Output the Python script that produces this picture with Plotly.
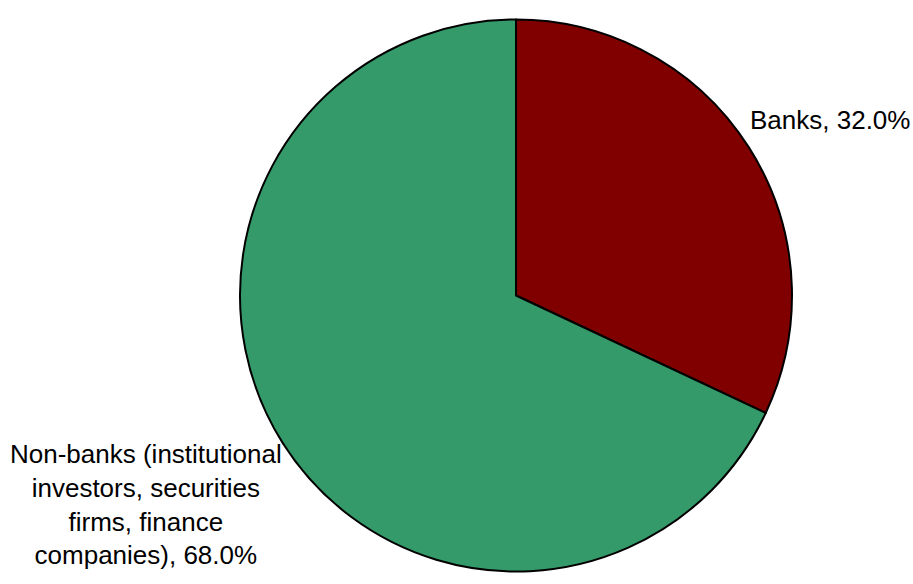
import plotly.graph_objects as go

labels = ["Banks", "Non-banks (institutional investors, securities firms, finance companies)"]
values = [32.0, 68.0]
label_lines = [["Banks, 32.0%"],
               ["Non-banks (institutional", "investors, securities", "firms, finance", "companies), 68.0%"]]
colors = ["#800000", "#349A69"]

W, H = 913, 584
cx, cy, r = 516, 295.5, 276

fig = go.Figure(go.Pie(
    labels=labels, values=values, sort=False, direction="clockwise", rotation=0,
    marker=dict(colors=colors, line=dict(color="black", width=2)),
    textinfo="none", hoverinfo="label+percent", showlegend=False,
    domain=dict(x=[(cx - r) / W, (cx + r) / W], y=[(H - cy - r) / H, (H - cy + r) / H]),
))

fig.add_annotation(x=748 / W, y=1 - 120 / H, xref="paper", yref="paper",
                   text="<br>".join(label_lines[0]), showarrow=False,
                   xanchor="left", yanchor="middle", align="left",
                   font=dict(family="Liberation Sans, Arial", size=26, color="black"))
fig.add_annotation(x=146 / W, y=1 - 504 / H, xref="paper", yref="paper",
                   text="<br>".join(label_lines[1]), showarrow=False,
                   xanchor="center", yanchor="middle", align="center",
                   font=dict(family="Liberation Sans, Arial", size=26, color="black"))

fig.update_layout(width=W, height=H, margin=dict(l=0, r=0, t=0, b=0),
                  paper_bgcolor="white", plot_bgcolor="white")
fig.write_html("out.html")
